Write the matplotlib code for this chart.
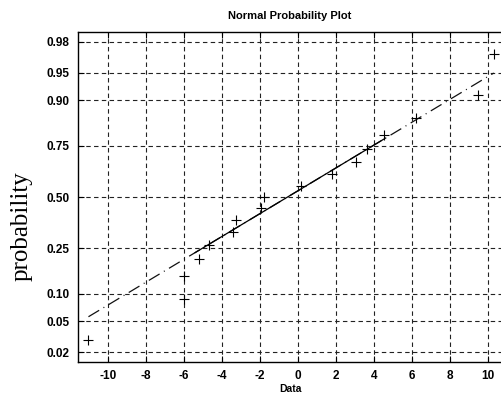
import numpy as np
import matplotlib
matplotlib.use("Agg")
import matplotlib.pyplot as plt
from statistics import NormalDist

# ---- data ----
data_x = [-11.01, -5.98, -5.96, -5.21, -4.69, -3.41, -3.27, -1.92, -1.76,
          0.17, 1.83, 3.07, 3.63, 4.54, 6.23, 9.49, 10.32]
prob_y = [0.029, 0.088, 0.147, 0.206, 0.265, 0.324, 0.382, 0.441, 0.500,
          0.559, 0.618, 0.676, 0.735, 0.794, 0.853, 0.912, 0.971]
solid_x = [-5.4, 4.6]          # solid part of the reference line
x_ticks = [-10, -8, -6, -4, -2, 0, 2, 4, 6, 8, 10]
y_ticks = [0.02, 0.05, 0.10, 0.25, 0.50, 0.75, 0.90, 0.95, 0.98]
y_ticklabels = ["0.02", "0.05", "0.10", "0.25", "0.50", "0.75", "0.90", "0.95", "0.98"]

nd = NormalDist()
_ppf = np.vectorize(nd.inv_cdf, otypes=[float])
_cdf = np.vectorize(nd.cdf, otypes=[float])

def fwd(p):
    p = np.clip(np.asarray(p, dtype=float), 1e-9, 1 - 1e-9)
    return _ppf(p)

def inv(z):
    return _cdf(np.asarray(z, dtype=float))

# reference line through the quartiles (normplot style)
xs = np.sort(np.array(data_x))
zs = fwd(prob_y)
q1x, q3x = np.percentile(xs, [25, 75])
q1z, q3z = np.percentile(zs, [25, 75])
slope = (q3z - q1z) / (q3x - q1x)
cx, cz = (q1x + q3x) / 2, (q1z + q3z) / 2
def line_p(x):
    return inv(cz + slope * (np.asarray(x) - cx))
full_x = np.array([min(data_x), max(data_x)])
sx = np.array(solid_x)

fig = plt.figure(figsize=(5.02, 3.94), dpi=100)
ax = fig.add_axes([78 / 502, 1 - 362 / 394, (506.7 - 78) / 502, 330 / 394])
ax.set_yscale("function", functions=(fwd, inv))

ax.plot(full_x, line_p(full_x), color="#111111", lw=0.9,
        linestyle=(0, (10, 4, 0.8, 4)))
ax.plot(sx, line_p(sx), color="black", lw=0.9, linestyle="-")
ax.plot(data_x, prob_y, linestyle="none", marker="+", color="black",
        ms=6.5, mew=0.8)

ax.set_xlim(-11.56, 11.0)
ax.set_ylim(float(inv(-2.18)), float(inv(2.18)))
ax.set_xticks(x_ticks)
ax.set_xticklabels([str(t) for t in x_ticks])
ax.set_yticks(y_ticks)
ax.set_yticklabels(y_ticklabels)
ax.minorticks_off()

ax.grid(True, color="#222222", linestyle=(0, (4, 3)), lw=0.8)
ax.tick_params(direction="in", top=True, right=True, length=4, width=0.8,
               labelsize=8.5, pad=6)
for lab in ax.get_xticklabels() + ax.get_yticklabels():
    lab.set_family("Liberation Sans")
    lab.set_fontweight("bold")
for s in ax.spines.values():
    s.set_linewidth(1.0)

fig.text(290 / 502, 1 - 16 / 394, "Normal Probability Plot", ha="center",
         va="center", fontsize=8, family="Liberation Sans", fontweight="bold")
fig.text(290 / 502, 1 - 389 / 394, "Data", ha="center", va="center",
         fontsize=7.5, family="Liberation Sans", fontweight="bold")
fig.text(22 / 502, 1 - 226 / 394, "probability", ha="center", va="center",
         rotation=90, fontsize=18, family="Liberation Serif")

fig.savefig("out.png", dpi=100)
